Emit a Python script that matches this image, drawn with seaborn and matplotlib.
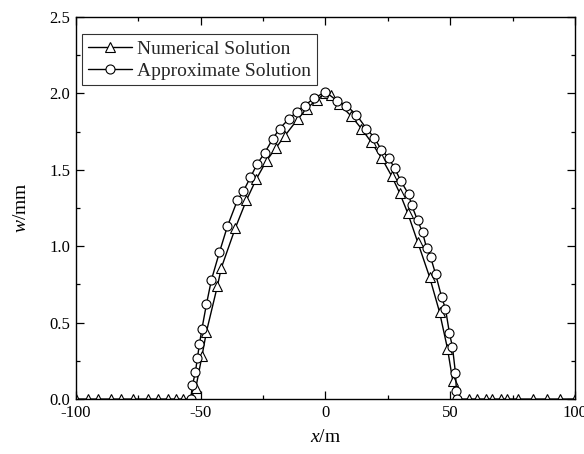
import matplotlib
matplotlib.use("Agg")
import matplotlib.pyplot as plt
import seaborn as sns
import numpy as np
from matplotlib.ticker import MultipleLocator

num_x = [-100, -95, -91, -86, -82, -77, -71, -67, -63, -60, -57, -54,
         -52, -49.5, -47.7, -43.3, -41.7, -36.1, -31.7, -27.7, -23.6, -20.0,
         -16.4, -11.2, -7.5, -3.5, 0.0, 2.4, 5.6, 10.4, 14.4, 18.4, 22.4,
         26.5, 29.7, 32.9, 36.9, 41.7, 45.7, 48.9, 51.0, 52.5,
         57.7, 60.9, 64.5, 66.9, 70.5, 72.9, 77.0, 83.0, 88.6, 93.8, 100]
num_y = [0, 0, 0, 0, 0, 0, 0, 0, 0, 0, 0, 0,
         0.07, 0.28, 0.44, 0.74, 0.86, 1.12, 1.30, 1.44, 1.56, 1.64,
         1.72, 1.83, 1.90, 1.96, 2.00, 1.99, 1.93, 1.85, 1.77, 1.68, 1.58,
         1.46, 1.35, 1.22, 1.03, 0.80, 0.57, 0.33, 0.12, 0.0,
         0, 0, 0, 0, 0, 0, 0, 0, 0, 0, 0]

apx_x = [-54.0, -53.3, -52.1, -51.3, -50.5, -49.5, -47.7, -45.7, -42.5, -39.3,
         -35.3, -32.9, -30.1, -27.3, -24.4, -21.2, -18.4, -14.8, -11.5, -8.4,
         -4.4, 0.0, 4.8, 8.4, 12.4, 16.4, 19.6, 22.4, 25.3, 27.7, 30.1, 33.3,
         34.5, 36.9, 38.9, 40.5, 42.1, 44.1, 46.5, 48.1, 49.7, 50.9, 52.1,
         52.5, 52.8]
apx_y = [0.0, 0.09, 0.18, 0.27, 0.36, 0.46, 0.62, 0.78, 0.96, 1.13,
         1.30, 1.36, 1.45, 1.54, 1.61, 1.70, 1.77, 1.83, 1.88, 1.92,
         1.97, 2.01, 1.95, 1.92, 1.86, 1.77, 1.71, 1.63, 1.58, 1.51, 1.43, 1.34,
         1.27, 1.17, 1.09, 0.99, 0.93, 0.82, 0.67, 0.59, 0.43, 0.34, 0.17,
         0.05, 0.0]

sns.set_theme(style="ticks")
plt.rcParams['font.family'] = ['Liberation Serif', 'DejaVu Serif']
plt.rcParams['mathtext.fontset'] = 'custom'
plt.rcParams['mathtext.rm'] = 'Liberation Serif'
plt.rcParams['mathtext.it'] = 'Liberation Serif:italic'

fig = plt.figure(figsize=(5.84, 4.54), dpi=100)
ax = fig.add_axes([0.130, 0.121, 0.8546, 0.8416])

mk = dict(markerfacecolor='white', markeredgecolor='black', markersize=6.5,
          markeredgewidth=0.8)
sns.lineplot(x=num_x, y=num_y, ax=ax, color='black', lw=1.0, marker='^',
             sort=False, label='Numerical Solution', **mk)
sns.lineplot(x=apx_x, y=apx_y, ax=ax, color='black', lw=1.0, marker='o',
             sort=False, label='Approximate Solution', **mk)

ax.set_xlim(-100, 100)
ax.set_ylim(0, 2.5)
ax.xaxis.set_minor_locator(MultipleLocator(25))
ax.yaxis.set_minor_locator(MultipleLocator(0.25))
ax.set_yticks([0, 0.5, 1.0, 1.5, 2.0, 2.5])
ax.set_yticklabels(['0.0', '0.5', '1.0', '1.5', '2.0', '2.5'])
ax.set_xticks([-100, -50, 0, 50, 100])
ax.set_xticklabels(['-100', '-50', '0', '50', '100'])

ax.tick_params(which='both', direction='in', top=True, right=True,
               labelsize=12, color='black', labelcolor='black', pad=4)
ax.tick_params(which='major', length=6, width=0.9)
ax.tick_params(which='minor', length=3, width=0.9)
for s in ax.spines.values():
    s.set_linewidth(1.0)
    s.set_color('black')

ax.set_xlabel(r'$x$/m', fontsize=14, color='black', labelpad=6)
ax.set_ylabel(r'$w$/mm', fontsize=14, color='black', labelpad=14)

leg = ax.legend(loc='upper left', bbox_to_anchor=(0.012, 0.955),
                borderaxespad=0, fontsize=14, frameon=True, fancybox=False,
                edgecolor='black', handlelength=2.3, handletextpad=0.25,
                borderpad=0.3, labelspacing=0.22)
leg.get_frame().set_linewidth(0.8)

fig.savefig('out.png', dpi=100)
